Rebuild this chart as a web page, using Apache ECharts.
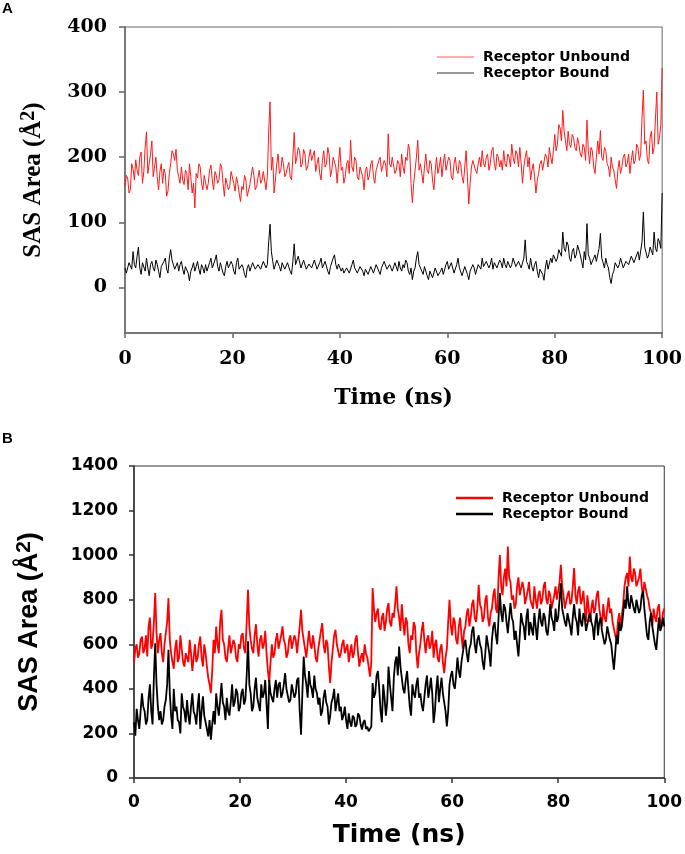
<!DOCTYPE html>
<html>
<head>
<meta charset="utf-8">
<script src="https://cdn.jsdelivr.net/npm/echarts@6/dist/echarts.min.js"></script>
<style>
html,body{margin:0;padding:0;background:#fff;}
#c{width:685px;height:854px;}
</style>
</head>
<body>
<div id="c"></div>
<script>
// Time axis: 0..100 ns every 0.25 ns
var timeNs = [];
for (var i = 0; i <= 400; i++) timeNs.push(i * 0.25);

var seriesNames = ['Receptor Unbound', 'Receptor Bound'];
var xTicks = [0, 20, 40, 60, 80, 100];
var yTicksA = [0, 100, 200, 300, 400];
var yTicksB = [0, 200, 400, 600, 800, 1000, 1200, 1400];

// Panel A (SAS area, Å^2)
var unboundA = [
155,172,168,145,150,190,182,165,196,180,172,200,208,160,178,215,239,175,190,205,
225,170,185,200,170,150,178,190,160,182,175,140,148,175,190,210,205,195,212,180,
170,160,185,165,158,180,175,150,190,170,145,160,122,175,168,190,185,160,150,172,
175,150,160,180,188,165,150,178,172,160,165,190,185,160,140,168,170,150,155,178,
175,160,148,170,160,145,132,155,150,172,165,140,138,158,160,185,172,150,155,168,
180,160,165,178,175,150,170,240,285,180,200,145,165,190,205,175,180,200,190,170,
175,185,192,170,165,200,238,190,200,215,210,185,190,212,205,180,185,200,212,195,
195,210,178,190,200,175,165,195,210,185,190,215,205,170,180,200,200,185,160,190,
215,180,185,160,170,190,195,175,226,185,178,200,195,170,165,185,188,170,150,180,
185,165,172,190,195,170,160,180,182,195,200,178,175,195,190,170,236,190,185,200,
200,175,180,195,190,170,205,185,175,200,195,220,210,160,130,160,180,200,226,180,
190,175,160,185,205,180,175,195,190,165,150,180,200,175,185,200,170,190,205,180,
180,200,195,170,165,190,200,180,175,195,190,170,160,185,210,170,128,160,185,195,
195,180,175,190,200,185,210,190,185,200,205,180,190,210,215,190,180,205,200,185,
195,180,210,190,185,205,200,185,220,200,190,210,205,185,215,190,160,185,200,210,
185,200,165,180,190,170,145,165,175,190,195,180,180,205,200,185,215,200,190,210,
235,210,220,250,245,225,272,240,225,210,240,220,215,235,230,215,210,230,220,205,
200,220,215,195,257,210,190,215,210,185,175,200,225,205,241,200,195,215,210,190,
185,170,200,185,180,165,152,180,195,175,185,200,205,185,190,205,175,195,210,190,
195,220,215,195,205,260,303,220,225,195,190,230,240,205,215,260,300,220,230,250,
337];
var boundA = [
30,22,25,38,40,28,55,35,30,48,62,30,20,38,35,25,45,30,18,35,
40,30,25,42,35,25,15,32,30,40,45,28,22,45,58,42,40,28,30,38,
25,35,40,28,20,32,35,22,10,25,30,38,25,32,40,28,20,35,30,22,
35,25,22,38,45,30,30,42,50,32,25,38,30,22,18,32,40,30,28,40,
35,25,20,38,45,28,25,35,30,20,15,30,35,25,28,38,40,28,30,35,
38,28,30,40,42,30,35,70,97,55,40,28,30,42,45,32,25,38,35,28,
28,38,35,25,20,40,67,35,35,48,45,30,30,42,40,28,25,36,38,30,
32,42,40,28,28,38,45,30,30,40,38,25,20,32,35,45,50,35,28,36,
35,25,30,22,20,30,32,22,25,35,42,30,30,22,22,32,35,25,18,28,
28,20,22,32,32,22,25,35,35,25,20,30,30,40,38,28,25,35,32,25,
28,38,35,25,40,30,25,35,30,42,38,25,20,30,12,25,30,45,55,35,
35,25,20,32,30,18,12,25,25,15,18,30,28,18,15,25,30,20,22,35,
40,28,25,38,35,22,20,35,45,30,28,18,18,32,30,20,12,25,25,35,
30,20,22,35,38,28,45,32,30,40,42,30,35,45,28,38,40,30,32,42,
38,30,45,35,30,40,42,30,35,45,48,32,30,40,40,30,28,45,73,40,
35,28,45,32,25,35,40,25,15,28,30,20,11,30,42,28,30,45,38,50,
50,40,45,58,60,48,85,60,55,70,65,45,40,55,60,45,50,65,62,50,
40,30,55,42,98,50,45,35,35,45,50,40,40,60,83,45,38,30,45,35,
30,15,6,20,25,38,40,30,35,45,45,30,30,40,42,35,38,48,50,38,
40,50,55,42,45,70,116,62,60,45,50,62,65,50,85,60,55,75,70,60,
145];

// Panel B (SAS area, Å^2)
var unboundB = [
520,580,600,540,560,620,635,560,580,640,545,680,720,580,600,700,830,650,560,620,
650,560,520,600,600,700,807,620,560,520,490,580,620,520,540,640,580,520,500,560,
560,520,620,560,480,540,600,520,540,600,635,540,500,600,560,500,450,420,381,480,
620,560,680,600,560,700,755,620,600,540,520,580,640,560,560,620,600,540,520,600,
580,640,650,580,560,700,845,680,620,580,560,640,690,600,545,620,640,580,600,660,
560,480,430,520,600,540,560,620,650,580,580,640,680,620,600,540,560,620,640,580,
580,640,620,560,560,680,755,660,620,580,540,600,660,600,580,640,600,540,520,580,
620,660,695,600,560,620,600,500,426,520,580,640,665,600,600,540,560,600,620,560,
560,600,520,560,600,540,560,620,640,560,500,540,560,520,600,560,540,500,455,520,
852,760,700,740,760,680,665,720,740,660,700,760,785,700,680,740,720,780,860,760,
720,660,780,700,640,720,700,600,560,640,620,700,680,560,493,560,600,660,700,620,
560,620,640,580,600,660,540,600,620,540,520,580,600,520,470,540,580,700,800,680,
640,720,700,620,600,680,720,640,580,660,680,740,760,680,720,780,800,720,700,760,
867,780,760,700,720,800,820,720,680,740,760,820,850,760,740,900,1001,860,820,900,
940,860,1039,900,880,800,820,760,780,860,900,820,820,880,850,780,780,840,880,800,
800,760,860,800,760,820,840,780,800,860,880,800,780,840,820,760,760,820,860,800,
800,880,957,860,820,760,760,820,840,780,790,860,942,820,780,840,860,780,800,840,
760,700,820,760,700,760,800,740,760,820,840,760,720,680,780,720,700,760,810,740,
760,700,700,640,620,700,740,680,680,780,860,900,920,860,994,900,880,940,920,860,
860,900,940,860,820,880,880,820,800,760,740,680,760,720,700,760,780,700,680,740,
760];
var boundB = [
250,190,310,260,220,300,380,320,300,240,260,360,420,300,240,450,605,420,320,260,
300,240,260,320,350,420,575,380,280,220,400,300,320,260,250,200,380,320,300,250,
350,280,240,320,380,300,280,240,320,380,220,300,366,280,250,220,187,260,172,240,
300,240,380,320,280,350,426,340,320,260,360,300,280,340,420,320,340,400,380,300,
320,380,400,330,350,460,613,420,380,300,320,400,450,360,360,300,420,360,380,440,
330,220,440,380,380,340,400,440,360,420,430,360,380,420,471,400,400,340,350,420,
420,360,380,440,450,300,194,380,545,460,420,360,480,420,400,360,460,400,380,330,
360,280,300,360,396,340,320,240,280,340,360,400,300,340,380,300,320,260,280,320,
260,220,290,250,230,280,270,230,240,290,280,240,217,250,260,220,230,210,202,230,
426,360,380,460,480,400,300,250,420,360,280,340,500,420,360,300,450,520,545,460,
590,500,450,400,380,440,480,400,320,280,420,380,360,420,450,360,380,330,300,360,
420,460,360,400,450,380,247,300,400,460,340,400,450,380,380,300,232,300,420,460,
480,420,400,460,540,480,450,520,560,600,620,560,520,580,600,660,680,600,560,620,
640,600,580,520,486,560,640,600,560,500,620,680,700,640,600,720,830,740,700,780,
760,700,650,720,785,720,700,620,660,600,546,640,740,700,680,620,720,760,640,700,
700,640,740,680,620,700,760,700,680,740,720,660,640,700,780,720,700,660,760,700,
720,800,874,760,760,700,680,740,740,680,640,720,780,720,700,640,760,700,680,740,
720,660,660,720,740,700,680,620,700,740,640,700,720,660,660,600,620,680,680,620,
600,540,486,560,640,600,700,660,680,740,800,760,860,780,760,820,820,760,740,800,
800,740,760,820,840,760,700,640,620,700,740,680,640,600,575,650,720,660,680,720,
680];

function pairs(ys) { return timeNs.map(function (t, i) { return [t, ys[i]]; }); }

var serifW = "'DejaVu Serif',serif";
var sansW = "'DejaVu Sans',sans-serif";
var serifN = "'Liberation Serif','Times New Roman',serif";
var sansN = "'Liberation Sans',Arial,sans-serif";

function plain(v) { return String(v); }

var chart = echarts.init(document.getElementById('c'), null, {renderer: 'canvas'});
chart.setOption({
  backgroundColor: '#fff',
  animation: false,
  title: [
    {text: 'A', left: 2, top: 1, padding: 0, textStyle: {fontFamily: sansN, fontWeight: 'bold', fontSize: 15, color: '#000'}},
    {text: 'B', left: 2, top: 431, padding: 0, textStyle: {fontFamily: sansN, fontWeight: 'bold', fontSize: 15, color: '#000'}}
  ],
  legend: [
    {
      data: [{name: 'A-' + seriesNames[0]}, {name: 'A-' + seriesNames[1]}],
      formatter: function (n) { return n.substring(2); },
      orient: 'vertical', left: 432, top: 45, itemWidth: 37, itemHeight: 1.2, itemGap: 2,
      icon: 'rect', selectedMode: false,
      textStyle: {fontFamily: sansW, fontWeight: 'bold', fontSize: 14, color: '#000', padding: [0, 0, 0, 4]}
    },
    {
      data: [{name: 'B-' + seriesNames[0]}, {name: 'B-' + seriesNames[1]}],
      formatter: function (n) { return n.substring(2); },
      orient: 'vertical', left: 451, top: 486, itemWidth: 37, itemHeight: 2.4, itemGap: 2,
      icon: 'rect', selectedMode: false,
      textStyle: {fontFamily: sansW, fontWeight: 'bold', fontSize: 14, color: '#000', padding: [0, 0, 0, 4]}
    }
  ],
  grid: [
    {left: 125, right: 20, top: 27, height: 306, show: true, borderColor: '#666', borderWidth: 1, containLabel: false},
    {left: 134, right: 18, top: 466, height: 312, show: true, borderColor: '#333', borderWidth: 1, containLabel: false}
  ],
  xAxis: [
    {
      gridIndex: 0, type: 'value', min: 0, max: 100, interval: 20,
      name: 'Time (ns)', nameLocation: 'middle', nameGap: 54,
      nameTextStyle: {fontFamily: serifW, fontWeight: 'bold', fontSize: 22, color: '#000'},
      axisLine: {show: true, onZero: false, lineStyle: {color: '#666', width: 1.5}},
      axisTick: {show: true, length: 5, lineStyle: {color: '#666', width: 1.5}},
      axisLabel: {margin: 17, fontFamily: serifW, fontWeight: 'bold', fontSize: 19, color: '#000'},
      splitLine: {show: false}
    },
    {
      gridIndex: 1, type: 'value', min: 0, max: 100, interval: 20,
      name: 'Time (ns)', nameLocation: 'middle', nameGap: 45,
      nameTextStyle: {fontFamily: sansW, fontWeight: 'bold', fontSize: 25, color: '#000'},
      axisLine: {show: true, onZero: false, lineStyle: {color: '#333', width: 1.5}},
      axisTick: {show: true, length: 5, lineStyle: {color: '#333', width: 1.5}},
      axisLabel: {margin: 16, fontFamily: sansW, fontWeight: 'bold', fontSize: 17, color: '#000', formatter: plain},
      splitLine: {show: false}
    }
  ],
  yAxis: [
    {
      gridIndex: 0, type: 'value', min: -70, max: 400,
      name: '{m|SAS Area (Å}{s|2}{m|)}', nameLocation: 'middle', nameGap: 76, nameRotate: 90,
      nameTextStyle: {
        fontFamily: serifN, fontWeight: 'bold', fontSize: 25, color: '#000',
        rich: {
          m: {fontFamily: serifN, fontWeight: 'bold', fontSize: 25, color: '#000', lineHeight: 30},
          s: {fontFamily: serifN, fontWeight: 'bold', fontSize: 20, color: '#000', verticalAlign: 'top', lineHeight: 20}
        }
      },
      axisLine: {show: true, onZero: false, lineStyle: {color: '#666', width: 1.5}},
      axisTick: {show: true, length: 6, customValues: yTicksA, lineStyle: {color: '#666', width: 1.5}},
      axisLabel: {margin: 18, customValues: yTicksA, fontFamily: serifW, fontWeight: 'bold', fontSize: 19, color: '#000'},
      splitLine: {show: false}
    },
    {
      gridIndex: 1, type: 'value', min: 0, max: 1400, interval: 200,
      name: '{m|SAS Area (Å}{s|2}{m|)}', nameLocation: 'middle', nameGap: 88, nameRotate: 90,
      nameTextStyle: {
        fontFamily: sansN, fontWeight: 'bold', fontSize: 27, color: '#000',
        rich: {
          m: {fontFamily: sansN, fontWeight: 'bold', fontSize: 27, color: '#000', lineHeight: 32},
          s: {fontFamily: sansN, fontWeight: 'bold', fontSize: 21, color: '#000', verticalAlign: 'top', lineHeight: 21}
        }
      },
      axisLine: {show: true, onZero: false, lineStyle: {color: '#333', width: 1.5}},
      axisTick: {show: true, length: 5, lineStyle: {color: '#333', width: 1.5}},
      axisLabel: {margin: 16, fontFamily: sansW, fontWeight: 'bold', fontSize: 17, color: '#000', formatter: plain},
      splitLine: {show: false}
    }
  ],
  series: [
    {name: 'A-' + seriesNames[0], type: 'line', xAxisIndex: 0, yAxisIndex: 0, data: pairs(unboundA),
      showSymbol: false, symbol: 'none', lineStyle: {color: '#ff1a1a', width: 1}, itemStyle: {color: '#ff5a5a'}},
    {name: 'A-' + seriesNames[1], type: 'line', xAxisIndex: 0, yAxisIndex: 0, data: pairs(boundA),
      showSymbol: false, symbol: 'none', lineStyle: {color: '#000', width: 1}, itemStyle: {color: '#333'}},
    {name: 'B-' + seriesNames[0], type: 'line', xAxisIndex: 1, yAxisIndex: 1, data: pairs(unboundB),
      showSymbol: false, symbol: 'none', lineStyle: {color: '#ff0000', width: 1.8}, itemStyle: {color: '#ff0000'}},
    {name: 'B-' + seriesNames[1], type: 'line', xAxisIndex: 1, yAxisIndex: 1, data: pairs(boundB),
      showSymbol: false, symbol: 'none', lineStyle: {color: '#000', width: 1.8}, itemStyle: {color: '#000'}}
  ]
});
</script>
</body>
</html>
